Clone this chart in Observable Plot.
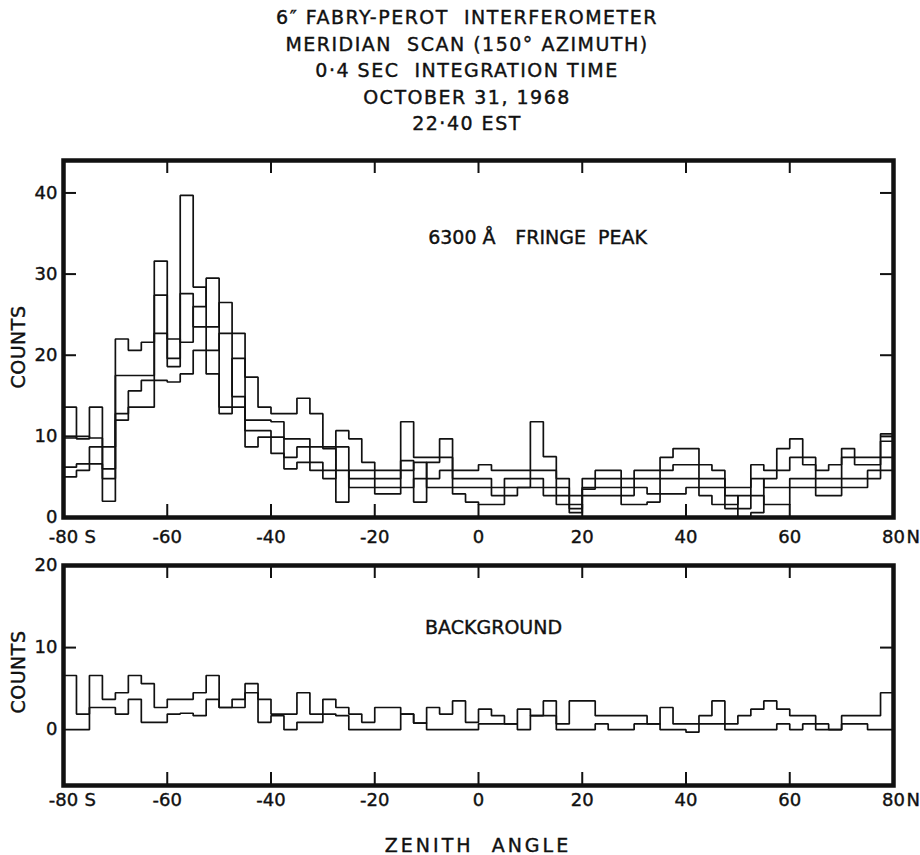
<!DOCTYPE html>
<html>
<head>
<meta charset="utf-8">
<script src="https://cdn.jsdelivr.net/npm/d3@7"></script>
<script src="https://cdn.jsdelivr.net/npm/@observablehq/plot@0.6"></script>
<style>
  html, body { margin: 0; padding: 0; background: #fff; }
  body { width: 920px; height: 855px; position: relative; overflow: hidden;
         font-family: "DejaVu Sans", sans-serif; color: #111; }
  #title { position: absolute; left: 0; top: 4px; width: 934px; text-align: center;
           font-size: 19px; line-height: 26.5px; letter-spacing: 1.5px; white-space: pre;
           -webkit-text-stroke: 0.4px #111; }
  .ylab { position: absolute; font-size: 19px; letter-spacing: 0.5px; white-space: pre;
          transform: translate(-50%, -50%) rotate(-90deg); -webkit-text-stroke: 0.4px #111; }
  #xlab { position: absolute; left: 478px; top: 845px; transform: translate(-50%, -50%);
          font-size: 19px; letter-spacing: 3px; white-space: pre; -webkit-text-stroke: 0.4px #111; }
  #topChart { position: absolute; left: 0; top: 140px; }
  #botChart { position: absolute; left: 0; top: 545px; }
  svg text { stroke: #111; stroke-width: 0.4px; }
</style>
</head>
<body>
<div id="title"></div>
<div id="topChart"></div>
<div id="botChart"></div>
<div class="ylab" style="left:18px; top:347px;">COUNTS</div>
<div class="ylab" style="left:18px; top:672px;">COUNTS</div>
<div id="xlab">ZENITH  ANGLE</div>
<script>
// ---------------- data ----------------
const titleLines = [
  "6\u2033 FABRY-PEROT  INTERFEROMETER",
  "MERIDIAN  SCAN (150\u00b0 AZIMUTH)",
  "0\u00b74 SEC  INTEGRATION TIME",
  "OCTOBER 31, 1968",
  "22\u00b740 EST"
];

// zenith-angle bins: first bin edge and bin width (degrees)
const zenithStart = -80;
const binWidth = 2.5;

// 6300 A fringe peak, four scans (counts per bin)
const fringeA = [13.6, 9.7, 13.6, 2, 17.5, 17.5, 17.5, 27.4, 19.6, 39.7,
  28.4, 23.5, 26.5, 22.7, 17.3, 13.6, 12.8, 12.8, 14.7, 12.8,
  8.7, 10.7, 9.7, 6.8, 5.8, 5.8, 11.8, 7.4, 7.4, 9.7,
  5.8, 5.8, 6.5, 5.8, 5.8, 5.8, 11.8, 7.5, 4.8, 2.7,
  4.8, 5.8, 5.8, 4.8, 5.8, 5.8, 7.4, 8.5, 8.5, 6.5,
  5.8, 3.7, 3.7, 6.5, 5.8, 8.5, 9.7, 7.4, 5.8, 6.5,
  8.5, 7.4, 7.4, 10.3];
const fringeB = [9.8, 10, 9.8, 8.7, 22, 20.6, 21.6, 31.6, 22, 21.6,
  26, 29.5, 12.8, 19.6, 12, 12, 11.8, 9.7, 9.7, 8.7,
  8.5, 1.9, 5.8, 5.8, 4.8, 4.8, 7, 1.9, 6.8, 7.4,
  4.8, 4.8, 4.8, 3.7, 4.8, 4.8, 5.8, 5.8, 3.7, 1.6,
  3.7, 4.8, 4.8, 3.7, 4.8, 4.8, 5.8, 6.5, 6.5, 4.8,
  4.8, 2.7, 0, 0.6, 4.8, 5.8, 7.4, 6.5, 4.8, 4.8,
  7.4, 6.5, 6.5, 9.4];
const fringeC = [6.2, 6.6, 8.7, 6, 12.8, 15.6, 16.9, 22.7, 18.6, 27.6,
  23.5, 20.6, 22.7, 14.9, 10.7, 10.7, 9.9, 7.4, 8.7, 6.8,
  5.8, 8.7, 4.8, 4.8, 3.7, 3.7, 5.8, 6.8, 4.8, 5.8,
  3.7, 3.7, 3.7, 2.7, 3.7, 3.7, 4.8, 3.7, 2.7, 1.1,
  3.5, 3.7, 3.7, 2.7, 3.7, 2.9, 4.8, 4.8, 4.8, 3.7,
  3.7, 1.6, 2.7, 4.8, 3.7, 3.7, 4.8, 4.8, 3.7, 3.7,
  4.8, 4.8, 5.8, 7.4];
const fringeD = [5, 5.8, 6.6, 4.8, 12, 13.6, 13.6, 16.9, 16.7, 17.7,
  20.6, 17.7, 13.6, 13.6, 8.7, 9.9, 7.9, 6, 6.8, 5.8,
  4.8, 5.8, 3.7, 3.7, 2.9, 2.9, 3.7, 4.8, 3.7, 3.7,
  2.9, 1.9, 1.6, 1.6, 2.7, 3.7, 3.7, 2.7, 1.6, 0.6,
  2.7, 2.7, 2.7, 1.6, 1.6, 1.9, 2.9, 2.9, 3.7, 2.7,
  1.6, 1.1, 1.1, 2.7, 1.6, 1.6, 3.7, 3.7, 2.7, 2.7,
  3.7, 3.7, 4.8, 5.8];

// background, two scans
const bgUpper = [6.6, 1.9, 6.6, 3.7, 4.5, 6.6, 5.6, 2.7, 3.7, 3.7,
  4.5, 6.6, 2.7, 3.7, 5.6, 3.7, 1.9, 1.9, 4.5, 1.9,
  3.7, 2.7, 1.9, 0.9, 2.7, 2.7, 1.9, 0.8, 2.7, 1.9,
  3.5, 0.9, 2.5, 1.7, 0.7, 2.5, 1.7, 3.5, 0.7, 3.5,
  3.5, 1.7, 1.7, 1.7, 1.7, 0.7, 2.7, 0.7, 0.7, 1.7,
  3.5, 0.7, 1.7, 2.5, 3.5, 2.5, 1.7, 1.7, 0.7, 0,
  1.7, 1.7, 1.7, 4.5];
const bgLower = [0, 0, 2.7, 2.7, 1.9, 3.7, 0.9, 0.9, 1.9, 2.0,
  1.7, 3.7, 2.7, 2.7, 4.5, 0.9, 1.7, 0, 0.9, 0.9,
  1.9, 1.7, 0, 0, 0, 0, 1.9, 0.8, 0, 0,
  0, 0, 0.7, 0.7, 0.7, 0, 1.7, 1.7, 0, 0,
  0, 0.7, 0, 0, 0.7, 0.7, 0, 0, -0.3, 0.7,
  0.7, 0, 0, 0, 0, 0.7, 0, 0.7, 0, 0,
  0.7, 0.7, 0, 0];

// axes
const xTickValues = [-80, -60, -40, -20, 0, 20, 40, 60, 80];
const xTickLabels = ["-80", "-60", "-40", "-20", "0", "20", "40", "60", "80"];
const xInnerTicks = [-60, -40, -20, 0, 20, 40, 60];
const hemisphereLabels = ["S", "N"];
const topYTicks = [0, 10, 20, 30, 40];
const topYLabels = ["0", "10", "20", "30", "40"];
const botYTicks = [0, 10, 20];
const botYLabels = ["0", "10", "20"];
const topDomain = [0, 44];
const botDomain = [-6.8, 20];

// panel annotations (data coordinates)
const topNote = [
  {text: "6300 \u00c5", x: -9.7, y: 34.5, ls: "0.6px"},
  {text: "FRINGE  PEAK", x: 7.1, y: 34.5, ls: "2.2px"}
];
const botNote = [{text: "BACKGROUND", x: -10.3, y: 12.4, ls: "1.2px"}];

// ---------------- build ----------------
document.getElementById("title").textContent = titleLines.join("\n");

function steps(name, values) {
  const pts = values.map((v, i) => ({s: name, x: zenithStart + i * binWidth, y: v}));
  pts.push({s: name, x: zenithStart + values.length * binWidth, y: values[values.length - 1]});
  return pts;
}
const topData = [].concat(steps("A", fringeA), steps("B", fringeB), steps("C", fringeC), steps("D", fringeD));
const botData = [].concat(steps("U", bgUpper), steps("L", bgLower));

const ink = "#111";
const W = 920, ML = 63, MR = 27, MT = 20, MB = 33;
const innerW = W - ML - MR;
const tickLen = 13;
const style = {fontFamily: "DejaVu Sans, sans-serif", fontSize: "18px", color: ink, background: "transparent", overflow: "visible"};

function panel({data, domain, innerH, yTicks, yLabels, notes, tickPadding}) {
  const lab = (vals, labs) => d => labs[vals.indexOf(d)];
  const inner = yTicks.filter(d => d > domain[0] && d < domain[1] && d !== 0);
  return Plot.plot({
    width: W, height: MT + innerH + MB,
    marginLeft: ML, marginRight: MR, marginTop: MT, marginBottom: MB,
    style,
    x: {domain: [xTickValues[0], xTickValues[xTickValues.length - 1]]},
    y: {domain},
    marks: [
      Plot.line(data, {x: "x", y: "y", z: "s", curve: "step-after", stroke: ink, strokeWidth: 1.7, strokeLinejoin: "miter", strokeLinecap: "square"}),
      Plot.tickX(xInnerTicks, {x: d => d, stroke: ink, strokeWidth: 2, insetTop: innerH - tickLen}),
      Plot.tickX(xInnerTicks, {x: d => d, stroke: ink, strokeWidth: 2, insetBottom: innerH - tickLen}),
      Plot.tickY(inner, {y: d => d, stroke: ink, strokeWidth: 2, insetRight: innerW - tickLen}),
      Plot.tickY(inner, {y: d => d, stroke: ink, strokeWidth: 2, insetLeft: innerW - tickLen}),
      Plot.frame({stroke: ink, strokeWidth: 4.5}),
      Plot.axisX(xTickValues, {tickSize: 0, tickPadding, tickFormat: lab(xTickValues, xTickLabels), label: null, fontSize: 18, letterSpacing: "1.5px"}),
      Plot.text([hemisphereLabels[0]], {x: () => xTickValues[0], frameAnchor: "bottom", lineAnchor: "top", dy: tickPadding, dx: 21, textAnchor: "start", text: d => d, fontSize: 18}),
      Plot.text([hemisphereLabels[1]], {x: () => xTickValues[xTickValues.length - 1], frameAnchor: "bottom", lineAnchor: "top", dy: tickPadding, dx: 13, textAnchor: "start", text: d => d, fontSize: 18}),
      Plot.axisY(yTicks, {tickSize: 0, tickPadding: 6, tickFormat: lab(yTicks, yLabels), label: null, fontSize: 18, letterSpacing: "1.5px"}),
      ...notes.map(n => Plot.text([n], {x: "x", y: "y", text: "text", textAnchor: "start", fontSize: 19, letterSpacing: n.ls}))
    ]
  });
}

const topSvg = panel({data: topData, domain: topDomain, innerH: 357, yTicks: topYTicks, yLabels: topYLabels, notes: topNote, tickPadding: 13});
document.getElementById("topChart").append(topSvg);

const botSvg = panel({data: botData, domain: botDomain, innerH: 220, yTicks: botYTicks, yLabels: botYLabels, notes: botNote, tickPadding: 8});
document.getElementById("botChart").append(botSvg);
</script>
</body>
</html>
